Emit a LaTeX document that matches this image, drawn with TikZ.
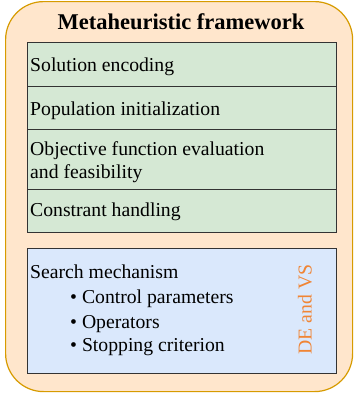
\documentclass[tikz,border=0pt]{standalone}
\usepackage{fontspec}
\setmainfont{Liberation Serif}
\definecolor{peachfill}{HTML}{FFE6CC}
\definecolor{peachline}{HTML}{D79B00}
\definecolor{greenfill}{HTML}{D5E8D4}
\definecolor{bluefill}{HTML}{DAE8FC}
\definecolor{boxline}{HTML}{333333}
\definecolor{labelorange}{HTML}{F08535}
\begin{document}
\begin{tikzpicture}[x=1pt,y=-1pt,
  frame/.style={draw=peachline,fill=peachfill,line width=1.2pt,rounded corners=38pt,
    anchor=north west,inner sep=0pt},
  stage/.style={draw=boxline,line width=1.3pt,anchor=north west,inner sep=0pt,
    minimum width=308.5pt},
  greenstage/.style={stage,fill=greenfill},
  bluestage/.style={stage,fill=bluefill},
  body/.style={anchor=base west,inner sep=0pt,font=\fontsize{19.7}{23.5}\selectfont},
  heading/.style={anchor=base,inner sep=0pt,font=\fontsize{22.5}{27}\selectfont\bfseries},
  sidelabel/.style={anchor=base,inner sep=0pt,rotate=90,text=labelorange,
    font=\fontsize{19.7}{23.5}\selectfont}]
\useasboundingbox (0,0) rectangle (354,394);

% outer container
\node[frame,minimum width=347pt,minimum height=390pt] (outer) at (5,1) {};
\node[heading] (title) at (181,29.5) {Metaheuristic framework};

% framework stages
\node[greenstage,minimum height=44pt] (enc) at (27,42) {};
\node[greenstage,minimum height=43pt] (init) at (27,86) {};
\node[greenstage,minimum height=60pt] (obj) at (27,129) {};
\node[greenstage,minimum height=43pt] (con) at (27,189) {};
\node[bluestage,minimum height=124.5pt] (search) at (27,248) {};

% stage labels
\node[body] (encT) at (30,71) {Solution encoding};
\node[body] (initT) at (30,115) {Population initialization};
\node[body] (objT1) at (30,155) {Objective function evaluation};
\node[body] (objT2) at (30,178.3) {and feasibility};
\node[body] (conT) at (30,216.7) {Constrant handling};

% search mechanism details
\node[body] (srchT) at (30,278.3) {Search mechanism};
\node[body] (itemA) at (70,303.3) {\textbullet\ Control parameters};
\node[body] (itemB) at (70,328.3) {\textbullet\ Operators};
\node[body] (itemC) at (70,351.7) {\textbullet\ Stopping criterion};
\node[sidelabel] (algo) at (311.5,309.5) {DE and VS};
\end{tikzpicture}
\end{document}
